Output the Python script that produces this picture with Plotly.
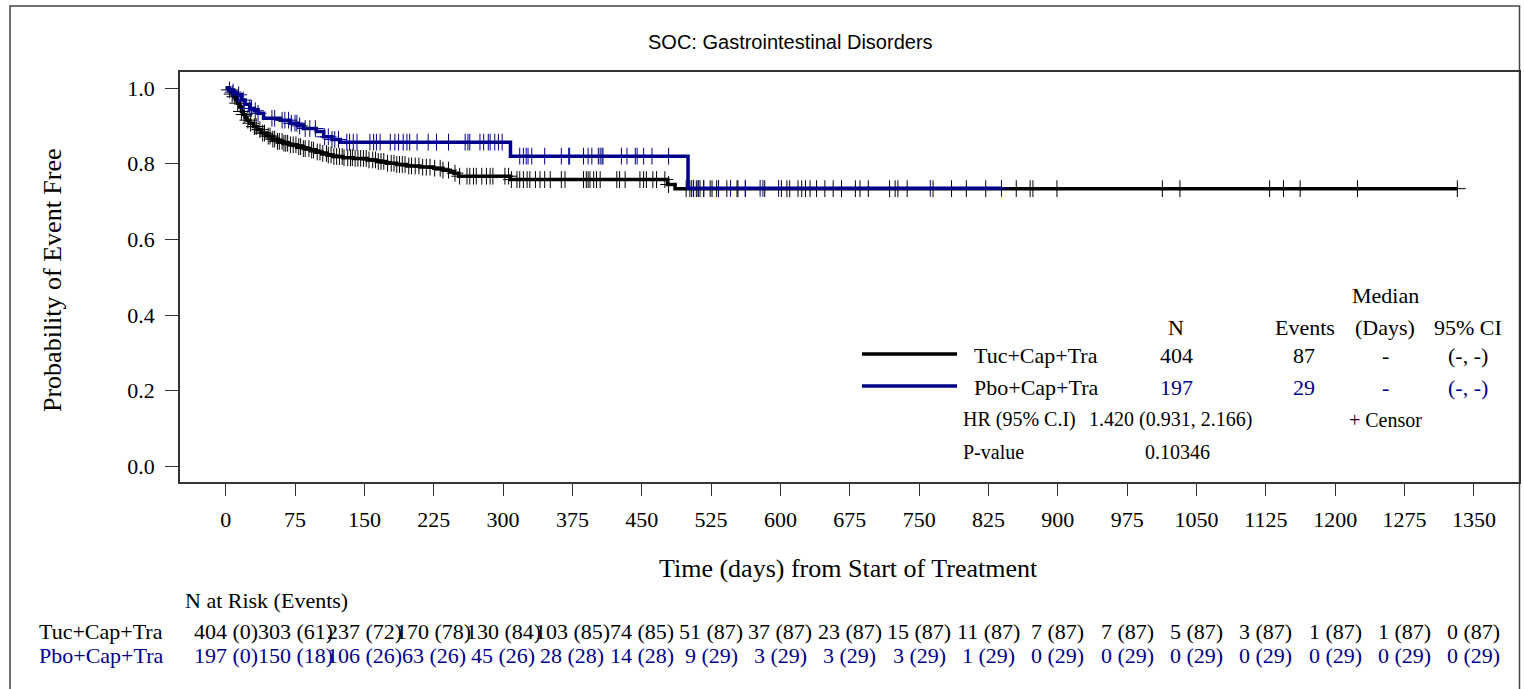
import numpy as np
import plotly.graph_objects as go

# ---------------- data ----------------
tuc_time = [0, 3, 5, 7, 9, 11, 13, 15, 17, 19, 21, 23, 26, 30, 34, 39, 44, 50, 56, 62, 69, 77, 84, 91,
            98, 104, 110, 116, 127, 138, 153, 163, 174, 185, 196, 210, 225, 235, 243, 247, 252, 308, 478, 486]
tuc_surv = [1.0, 0.995, 0.99, 0.984, 0.977, 0.968, 0.960, 0.950, 0.938, 0.930, 0.922, 0.915, 0.907, 0.898,
            0.890, 0.881, 0.873, 0.865, 0.859, 0.854, 0.850, 0.845, 0.840, 0.836, 0.831, 0.827, 0.823, 0.819,
            0.816, 0.814, 0.810, 0.806, 0.801, 0.798, 0.794, 0.791, 0.788, 0.783, 0.779, 0.775, 0.767, 0.758,
            0.745, 0.734]
tuc_censor = [4, 7, 10, 13, 17, 20, 24, 27, 31, 33, 37, 40, 42, 46, 48, 51, 53, 56, 58, 61, 63, 65, 67, 70,
              73, 76, 79, 81, 84, 86, 90, 93, 95, 99, 102, 105, 109, 111, 114, 117, 120, 123, 126, 128, 132,
              135, 137, 140, 143, 146, 149, 152, 155, 159, 162, 165, 168, 171, 175, 179, 182, 185, 188, 191,
              194, 198, 201, 205, 209, 213, 217, 221, 226, 232, 235, 241, 248, 253, 261, 264, 268, 271, 277,
              282, 286, 289, 302, 306, 309, 315, 318, 322, 326, 329, 335, 340, 345, 351, 363, 367, 387, 390,
              392, 394, 398, 401, 405, 423, 426, 432, 448, 452, 455, 462, 466, 475, 479, 498, 502, 504, 506,
              509, 511, 513, 517, 524, 526, 531, 533, 542, 553, 554, 562, 583, 601, 607, 610, 619, 623, 627,
              632, 639, 648, 657, 666, 681, 686, 695, 718, 724, 727, 737, 765, 785, 801, 822, 855, 870, 873,
              899, 1013, 1032, 1129, 1144, 1162, 1224, 1332]

pbo_time = [0, 4, 8, 12, 17, 21, 26, 31, 35, 41, 59, 70, 78, 84, 98, 106, 115, 124, 308, 500]
pbo_surv = [1.0, 0.995, 0.989, 0.982, 0.968, 0.957, 0.946, 0.940, 0.933, 0.920, 0.915, 0.907, 0.900,
            0.893, 0.885, 0.871, 0.864, 0.857, 0.820, 0.735]
pbo_censor = [8, 14, 19, 26, 28, 32, 35, 50, 53, 61, 64, 68, 71, 75, 77, 80, 86, 91, 97, 107, 111, 115, 118,
              122, 131, 134, 138, 142, 156, 160, 163, 167, 178, 183, 187, 192, 196, 199, 207, 219, 228, 241,
              259, 262, 264, 275, 279, 284, 286, 291, 295, 299, 318, 322, 325, 327, 331, 345, 363, 371, 372,
              387, 392, 396, 403, 405, 407, 408, 428, 434, 443, 445, 452, 461, 479, 506, 511, 517, 533, 546,
              562, 578, 581, 598, 762, 839]

risk_days = [0, 75, 150, 225, 300, 375, 450, 525, 600, 675, 750, 825, 900, 975, 1050, 1125, 1200, 1275, 1350]
tuc_risk = [404, 303, 237, 170, 130, 103, 74, 51, 37, 23, 15, 11, 7, 7, 5, 3, 1, 1, 0]
tuc_events = [0, 61, 72, 78, 84, 85, 85, 87, 87, 87, 87, 87, 87, 87, 87, 87, 87, 87, 87]
pbo_risk = [197, 150, 106, 63, 45, 28, 14, 9, 3, 3, 3, 1, 0, 0, 0, 0, 0, 0, 0]
pbo_events = [0, 18, 26, 26, 26, 28, 28, 29, 29, 29, 29, 29, 29, 29, 29, 29, 29, 29, 29]

y_ticks = [0.0, 0.2, 0.4, 0.6, 0.8, 1.0]

arm_names = ["Tuc+Cap+Tra", "Pbo+Cap+Tra"]
arm_n = ["404", "197"]
arm_ev = ["87", "29"]
arm_med = ["-", "-"]
arm_ci = ["(-, -)", "(-, -)"]
hr_text = "1.420 (0.931, 2.166)"
p_text = "0.10346"

# ---------------- styling ----------------
W, H = 1524, 689
BLACK = "#000000"
BLUE = "#00008C"
SERIF = "Liberation Serif"
SANS = "Liberation Sans"


def px(x):
    return x / W


def py(y):
    return 1 - y / H


def surv_at(times, surv, t):
    idx = np.searchsorted(np.array(times), np.array(t), side="right") - 1
    return list(np.array(surv)[idx])


fig = go.Figure()

for times, surv, cens, col, name in [
    (tuc_time, tuc_surv, tuc_censor, BLACK, arm_names[0]),
    (pbo_time, pbo_surv, pbo_censor, BLUE, arm_names[1]),
]:
    xs = list(times) + [max(cens)]
    ys = list(surv) + [surv[-1]]
    fig.add_trace(go.Scatter(x=xs, y=ys, mode="lines", line=dict(color=col, width=3.5, shape="hv"),
                             name=name, showlegend=False, hoverinfo="skip"))
    fig.add_trace(go.Scatter(x=cens, y=surv_at(times, surv, cens), mode="markers",
                             marker=dict(symbol="cross-thin", size=12, line=dict(color=col, width=1)),
                             showlegend=False, hoverinfo="skip"))

axis_common = dict(showgrid=False, zeroline=False, showline=True, mirror=True, linecolor="#333333",
                   linewidth=1.5, ticks="outside", tickcolor="#333333", tickwidth=1.3,
                   tickfont=dict(family=SERIF, size=22, color=BLACK))

fig.update_layout(
    width=W, height=H, margin=dict(l=0, r=0, t=0, b=0),
    paper_bgcolor="white", plot_bgcolor="white",
    xaxis=dict(axis_common, domain=[px(180), px(1519)], range=[-49.4, 1398.7],
               tickvals=risk_days, ticktext=[str(d) for d in risk_days], ticklen=12,
               ticklabelstandoff=5),
    yaxis=dict(axis_common, domain=[py(482), py(72)], range=[-0.041, 1.0423],
               tickvals=y_ticks, ticktext=[f"{v:.1f}" for v in y_ticks], ticklen=13,
               ticklabelstandoff=6),
)

ann = []


def text(x, y, s, size=22, color=BLACK, xanchor="center", family=SERIF, xref="paper", angle=0):
    ann.append(dict(x=x if xref != "paper" else px(x), y=py(y), xref=xref, yref="paper", text=s,
                    showarrow=False, xanchor=xanchor, yanchor="middle", textangle=angle,
                    font=dict(family=family, size=size, color=color)))


# title and axis titles
text(790, 42, "SOC: Gastrointestinal Disorders", size=20, family=SANS)
text(52, 280, "Probability of Event Free", size=26, angle=-90)
text(848, 568, "Time (days) from Start of Treatment", size=26)

# stats box
text(1385, 295, "Median")
text(1176, 327, "N")
text(1305, 327, "Events")
text(1385, 327, "(Days)")
text(1468, 327, "95% CI")
for i, (yy, col) in enumerate([(355, BLACK), (387, BLUE)]):
    text(972, yy, arm_names[i], xanchor="left")
    text(1176, yy, arm_n[i], color=col)
    text(1304, yy, arm_ev[i], color=col)
    text(1385, yy, arm_med[i], color=col)
    text(1468, yy, arm_ci[i], color=col)
text(961, 420, "HR (95% C.I)", size=20, xanchor="left")
text(1087, 420, hr_text, size=20, xanchor="left")
text(1385, 420, "+ Censor", size=20)
text(961, 452, "P-value", size=20, xanchor="left")
text(1177, 452, p_text, size=20)

# risk table
text(183, 600, "N at Risk (Events)", xanchor="left")
text(37, 631, arm_names[0], xanchor="left")
text(37, 655, arm_names[1], xanchor="left", color=BLUE)
for d, n, e in zip(risk_days, tuc_risk, tuc_events):
    text(d, 631, f"{n} ({e})", xref="x")
for d, n, e in zip(risk_days, pbo_risk, pbo_events):
    text(d, 655, f"{n} ({e})", xref="x", color=BLUE)

fig.update_layout(annotations=ann)

shapes = [
    dict(type="rect", xref="paper", yref="paper", x0=px(10), x1=px(1519.5), y0=py(700), y1=py(6),
         line=dict(color="#444444", width=1.5), layer="below"),
    dict(type="line", xref="paper", yref="paper", x0=px(862), x1=px(957), y0=py(354), y1=py(354),
         line=dict(color=BLACK, width=3.5)),
    dict(type="line", xref="paper", yref="paper", x0=px(862), x1=px(957), y0=py(386), y1=py(386),
         line=dict(color=BLUE, width=3.5)),
]
fig.update_layout(shapes=shapes)

fig.write_html("out.html", config={"displayModeBar": False},
               post_script="document.body.style.margin='0';document.body.style.overflow='hidden';")
